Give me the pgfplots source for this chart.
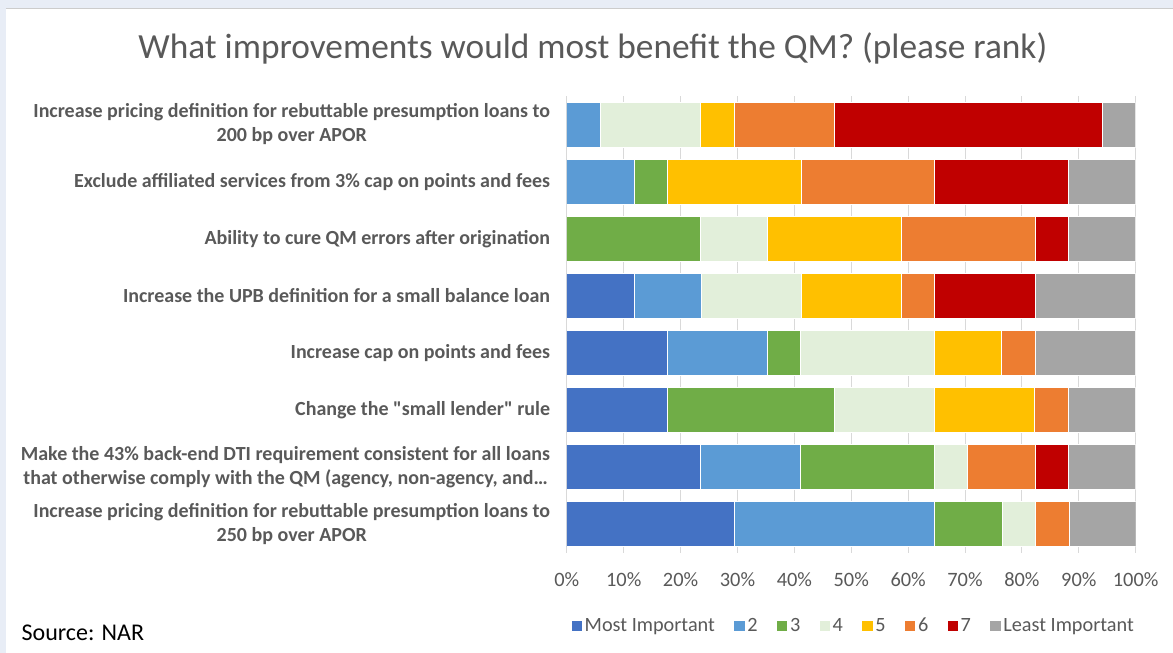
\documentclass[border=0pt]{standalone}
\usepackage{pgfplots}
\pgfplotsset{compat=1.18}
\usepackage{pgfplotstable}
\usepackage{fontspec}
\setmainfont{Carlito}
\definecolor{cMI}{HTML}{4472C4}
\definecolor{cTwo}{HTML}{5B9BD5}
\definecolor{cThree}{HTML}{70AD47}
\definecolor{cFour}{HTML}{E2EFDA}
\definecolor{cFive}{HTML}{FFC000}
\definecolor{cSix}{HTML}{ED7D31}
\definecolor{cSeven}{HTML}{C00000}
\definecolor{cLeast}{HTML}{A5A5A5}
\definecolor{txtgray}{HTML}{595959}
\definecolor{gridgray}{HTML}{D9D9D9}
\definecolor{bgblue}{HTML}{E8EDF6}
\pgfplotstableread{
y   mi    two   three four  five  six   seven least
0   29.4  35.3  11.8  5.9   0     5.9   0     11.8
1   23.5  17.6  23.5  5.9   0     11.8  5.9   11.8
2   17.6  0     29.4  17.6  17.6  5.9   0     11.8
3   17.6  17.6  5.9   23.5  11.8  5.9   0     17.6
4   11.8  11.8  0     17.6  17.6  5.9   17.6  17.6
5   0     0     23.5  11.8  23.5  23.5  5.9   11.8
6   0     11.8  5.9   0     23.5  23.5  23.5  11.8
7   0     5.9   0     17.6  5.9   17.6  47.1  5.9
}\datatable
\begin{document}
\begin{tikzpicture}[x=0.75pt,y=0.75pt]
\fill[bgblue] (0,0) rectangle (1173,653);
\fill[white] (6,0) rectangle (1173,645);
\draw[color=gray!40, line width=0.5pt] (6,645) -- (1173,645);
\useasboundingbox (0,0) rectangle (1173,653);
\node[font=\fontsize{26.5}{30}\selectfont, text=txtgray] at (593,605) {What improvements would most benefit the QM? (please rank)};
\node[font=\fontsize{18}{21}\selectfont, anchor=west, text=black] at (17,20) {Source: NAR};
\begin{axis}[
  at={(425.25pt,75pt)}, anchor=south west,
  width=426.75pt, height=342.75pt, scale only axis,
  xbar stacked, bar width=33.75pt,
  xmin=0, xmax=100, ymin=-0.5, ymax=7.5,
  xtick={0,10,20,30,40,50,60,70,80,90,100},
  xticklabels={0\%,10\%,20\%,30\%,40\%,50\%,60\%,70\%,80\%,90\%,100\%},
  ytick={0,1,2,3,4,5,6,7},
  yticklabels={
    {Increase pricing definition for rebuttable presumption loans to\\250 bp over APOR},
    {Make the 43\% back-end DTI requirement consistent for all loans\\that otherwise comply with the QM (agency, non-agency, and\ldots},
    {Change the \textquotedbl small lender\textquotedbl{} rule},
    {Increase cap on points and fees},
    {Increase the UPB definition for a small balance loan},
    {Ability to cure QM errors after origination},
    {Exclude affiliated services from 3\% cap on points and fees},
    {Increase pricing definition for rebuttable presumption loans to\\200 bp over APOR}},
  yticklabel style={align=center, font=\bfseries\fontsize{15}{18}\selectfont, text=txtgray, xshift=-9pt},
  xticklabel style={font=\fontsize{15.3}{18}\selectfont, text=txtgray, yshift=-11pt},
  axis line style={draw=none},
  major tick length=0pt,
  xmajorgrids, grid style={color=gridgray, line width=0.75pt},
  legend style={at={(0.505,-0.16)}, anchor=center, draw=none, fill=none,
    font=\fontsize{15.2}{18}\selectfont, text=txtgray,
    /tikz/every even column/.append style={column sep=12.5pt}},
  legend columns=8,
  legend image code/.code={\fill[#1,draw=none] (0pt,-3.8pt) rectangle (7.8pt,4.0pt);},
  every axis plot/.append style={draw=white, line width=0.6pt},
]
\addplot[fill=cMI] table[x=mi,y=y]{\datatable};
\addplot[fill=cTwo] table[x=two,y=y]{\datatable};
\addplot[fill=cThree] table[x=three,y=y]{\datatable};
\addplot[fill=cFour] table[x=four,y=y]{\datatable};
\addplot[fill=cFive] table[x=five,y=y]{\datatable};
\addplot[fill=cSix] table[x=six,y=y]{\datatable};
\addplot[fill=cSeven] table[x=seven,y=y]{\datatable};
\addplot[fill=cLeast] table[x=least,y=y]{\datatable};
\legend{Most Important,2,3,4,5,6,7,Least Important}
\end{axis}
\end{tikzpicture}
\end{document}
